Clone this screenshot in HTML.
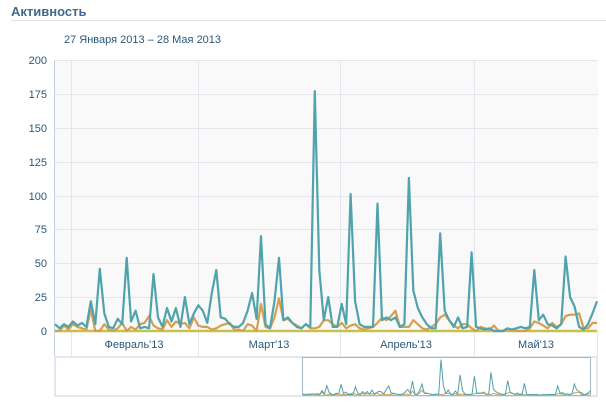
<!DOCTYPE html>
<html><head><meta charset="utf-8"><style>
body{margin:0;background:#fff;width:606px;height:401px;overflow:hidden;font-family:"Liberation Sans",sans-serif}
</style></head><body>
<svg width="606" height="401" xmlns="http://www.w3.org/2000/svg" font-family="Liberation Sans, sans-serif">
<text x="11" y="16" font-size="13" font-weight="bold" fill="#45688e">Активность</text>
<rect x="11" y="20" width="595" height="1" fill="#dae1e8"/>
<text x="64" y="43" font-size="11" fill="#2b587a">27 Января 2013 – 28 Мая 2013</text>
<rect x="55" y="60" width="543" height="271" fill="#f9f9fa"/>
<g stroke="#e2e6ee" stroke-width="1">
<line x1="55" x2="598" y1="60.5" y2="60.5"/><line x1="55" x2="598" y1="94.5" y2="94.5"/>
<line x1="55" x2="598" y1="128.5" y2="128.5"/><line x1="55" x2="598" y1="162.5" y2="162.5"/>
<line x1="55" x2="598" y1="196.5" y2="196.5"/><line x1="55" x2="598" y1="229.5" y2="229.5"/>
<line x1="55" x2="598" y1="263.5" y2="263.5"/><line x1="55" x2="598" y1="297.5" y2="297.5"/>
<line x1="71.5" x2="71.5" y1="60" y2="356"/><line x1="198.5" x2="198.5" y1="60" y2="356"/>
<line x1="340.5" x2="340.5" y1="60" y2="356"/><line x1="474.5" x2="474.5" y1="60" y2="356"/>
<line x1="597.5" x2="597.5" y1="331" y2="356"/>
</g>
<line x1="54.5" x2="54.5" y1="60" y2="356" stroke="#c5d0dd"/>
<g font-size="11" fill="#2b587a" text-anchor="end">
<text x="47" y="64">200</text><text x="47" y="98">175</text><text x="47" y="132">150</text>
<text x="47" y="166">125</text><text x="47" y="200">100</text><text x="47" y="233">75</text>
<text x="47" y="267">50</text><text x="47" y="301">25</text><text x="47" y="335">0</text>
</g>
<g font-size="11" fill="#2b587a" text-anchor="middle">
<text x="134" y="348">Февраль'13</text><text x="269" y="348">Март'13</text>
<text x="406" y="348">Апрель'13</text><text x="536" y="348">Май'13</text>
</g>
<rect x="55" y="357" width="542" height="39" fill="#fff" stroke="#c5d0dd"/>
<rect x="302.5" y="357.5" width="288" height="38" fill="none" stroke="#a9b8c8"/>
<line x1="55" x2="597" y1="331" y2="331" stroke="#c8c14a" stroke-width="2.5"/>
<g id="g"></g>
</svg>
<script>
var t=[5,2,5,3,7,4,6,3,22,5,46,13,3,2,9,5,54,7,15,2,3,2,42,10,3,17,7,17,3,25,5,13,19,15,6,28,45,10,9,5,3,3,6,15,28,9,70,5,2,22,54,8,10,6,3,2,5,3,177,45,8,25,3,3,20,5,101,22,5,3,3,3,94,8,10,8,10,3,5,113,30,17,10,5,2,2,72,15,8,3,10,2,3,58,3,2,1,2,0,0,0,2,1,2,3,2,3,45,8,12,5,4,2,5,55,25,18,3,1,5,13,22];
var o=[0,0,4,1,5,3,2,1,16,0,0,5,1,0,2,6,0,3,1,5,6,11,4,2,1,8,3,7,5,6,2,10,4,3,3,1,2,4,5,6,1,1,0,5,4,0,20,3,2,10,24,8,9,6,4,2,5,2,2,3,8,8,5,3,6,2,4,5,2,1,2,3,6,10,8,11,15,3,3,3,8,5,2,1,3,5,10,12,8,4,2,5,5,2,0,3,2,1,4,0,0,1,1,0,0,0,2,7,6,4,2,6,3,5,11,12,12,13,2,2,6,6];
function pts(a,x0,dx,y0,s){return a.map(function(v,i){return (x0+i*dx).toFixed(1)+","+(y0-v*s).toFixed(1)}).join(" ")}
var dx=542/121;
var h='<polyline fill="none" stroke="#d5a04e" stroke-width="2.2" stroke-linejoin="round" points="'+pts(o,55,dx,331,1.355)+'"/>'+
'<polyline fill="none" stroke="#4fa3ad" stroke-width="2.2" stroke-linejoin="round" points="'+pts(t,55,dx,331,1.355)+'"/>';
var ndx=288/121;
h+='<polyline fill="none" stroke="#d5a04e" stroke-width="1" points="'+pts(o,303,ndx,395,0.2)+'"/>'+
'<polyline fill="none" stroke="#4fa3ad" stroke-width="1" points="'+pts(t,303,ndx,395,0.2)+'"/>';
document.getElementById('g').innerHTML=h;
</script>
</body></html>
